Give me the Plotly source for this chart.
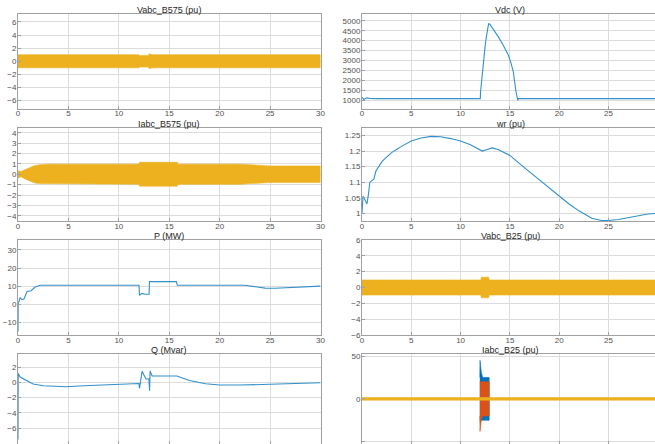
import plotly.graph_objects as go

# ---------------- data ----------------
# Vabc_B575 envelope (pu)
t_vb575 = [0, 12.0, 12.05, 12.95, 13.0, 13.15, 13.3, 30]
amp_vb575 = [1.0, 1.0, 0.88, 0.88, 1.15, 1.05, 1.0, 1.0]

# Iabc_B575 envelope (pu)
t_ib575 = [0, 0.15, 0.3, 0.5, 0.8, 1.0, 1.3, 1.6, 2.0, 2.5, 3.0, 12.0, 12.05, 15.8, 15.85,
           22.0, 23.0, 24.0, 25.0, 30]
amp_ib575 = [0.35, 0.3, 0.25, 0.35, 0.5, 0.6, 0.72, 0.82, 0.9, 0.95, 0.97, 0.97, 1.15, 1.15, 0.97,
             0.97, 0.9, 0.83, 0.8, 0.8]

# Vdc (V)
t_vdc = [0, 0.2, 0.5, 0.8, 1.5, 12.0, 12.02, 12.15, 12.3, 12.48, 12.6, 12.75, 12.85, 13.0, 13.5,
         13.83, 14.3, 14.85, 15.1, 15.35, 15.6, 15.8, 15.85, 30]
vdc = [1150, 1050, 1130, 1100, 1090, 1090, 1400, 2170, 2900, 3690, 4150, 4620, 4870, 4800, 4450,
       4190, 3800, 3270, 2900, 2430, 1500, 1000, 1090, 1090]

# wr (pu)
t_wr = [0, 0.1, 0.2, 0.35, 0.5, 0.65, 0.8, 1.0, 1.2, 1.4, 1.7, 2.0, 2.3, 2.6, 3.0, 3.5, 4.0, 5.0,
        6.0, 7.0, 8.0, 9.0, 10.0, 11.0, 12.2, 12.7, 13.2, 13.8, 14.5, 15.0, 16.5, 18.0, 19.9, 21.0,
        22.0, 23.3, 24.3, 25.0, 26.0, 27.0, 28.0, 29.0, 30.0]
wr = [1.0, 1.055, 1.05, 1.04, 1.03, 1.06, 1.1, 1.105, 1.11, 1.135, 1.15, 1.165, 1.175, 1.185,
      1.195, 1.205, 1.215, 1.232, 1.242, 1.247, 1.246, 1.24, 1.232, 1.22, 1.2, 1.205, 1.21, 1.205,
      1.195, 1.186, 1.146, 1.108, 1.058, 1.03, 1.008, 0.984, 0.977, 0.977, 0.98, 0.986, 0.992,
      0.998, 1.0]

# P (MW)
t_p = [0, 0.02, 0.1, 0.2, 0.4, 0.6, 0.9, 1.3, 1.7, 2.2, 12.0, 12.05, 12.3, 12.6, 13.0, 13.04,
       15.7, 15.8, 22.5, 23.5, 24.5, 25.5, 27.0, 29.0, 30.0]
p = [-15, 1.0, 1.4, 3.6, 2.5, 3.0, 7.0, 7.5, 9.5, 10.5, 10.5, 5.0, 6.0, 5.5, 5.5, 12.5,
     12.5, 10.5, 10.5, 9.5, 8.9, 8.8, 9.2, 9.8, 10.0]

# Vabc_B25 envelope (pu)
t_vb25 = [0, 12.05, 12.1, 12.85, 12.9, 30]
amp_vb25 = [0.95, 0.95, 1.3, 1.3, 0.95, 0.95]

# Q (Mvar)
t_q = [0, 0.02, 0.2, 0.8, 1.5, 2.5, 4.8, 6.5, 9.8, 11.9, 12.0, 12.05, 12.3, 12.7, 12.98, 13.05,
       13.1, 13.3, 15.75, 17.0, 18.6, 20.0, 22.0, 25.0, 28.0, 30.0]
q = [-7.5, 1.2, 0.7, 0.3, -0.22, -0.44, -0.57, -0.44, -0.22, -0.15, -0.15, -0.8, 1.45, 0.45, 0.45,
     -1.1, 1.5, 0.85, 0.85, 0.26, -0.18, -0.35, -0.35, -0.25, -0.15, -0.05]

# Iabc_B25 (pu): phase envelopes
t_ib25_c = [0, 30]
amp_ib25_c = [1.5, 1.5]
t_ib25_a = [11.95, 11.97, 12.1, 12.25, 12.9]
up_ib25_a = [25, 45, 31, 25, 25]
lo_ib25_a = [-25, -25, -25, -25, -25]
t_ib25_b = [11.95, 11.97, 12.1, 12.25, 12.9]
up_ib25_b = [20, 20, 20, 20, 20]
lo_ib25_b = [-20, -38, -24, -20, -20]

x_ticks = [0, 5, 10, 15, 20, 25, 30]

# ---------------- styling ----------------
BLUE = "#0072BD"
ORANGE = "#D95319"
YELLOW = "#EDB120"
LINE = "#3090cc"
FONT = "Liberation Sans, Arial, sans-serif"

W, H = 655, 444
left_x = [18 / W, 320.5 / W]
right_x = [362 / W, 1.0]
rows_px = [(14, 108.5), (127.5, 221), (240, 335), (353.5, 444)]
rows_y = [[1 - b / H, 1 - t / H] for t, b in rows_px]

panels = [
    # title, row, col, yrange, ytickvals, yticktext, xrange
    ("Vabc_B575 (pu)", 0, 0, [-7.2, 7.2], [-6, -4, -2, 0, 2, 4, 6], None, [0, 30]),
    ("Vdc (V)", 0, 1, [597, 5338], [1000, 1500, 2000, 2500, 3000, 3500, 4000, 4500, 5000], None, [0, 29.72]),
    ("Iabc_B575 (pu)", 1, 0, [-4.5, 4.5], [-4, -3, -2, -1, 0, 1, 2, 3, 4], None, [0, 30]),
    ("wr (pu)", 1, 1, [0.9754, 1.2756], [1, 1.05, 1.1, 1.15, 1.2, 1.25],
     ["1", "1.05", "1.1", "1.15", "1.2", "1.25"], [0, 29.72]),
    ("P (MW)", 2, 0, [-17, 35.5], [-10, 0, 10, 20, 30], None, [0, 30]),
    ("Vabc_B25 (pu)", 2, 1, [-6, 6], [-6, -4, -2, 0, 2, 4, 6], None, [0, 29.72]),
    ("Q (Mvar)", 3, 0, [-8.1, 3.8], [-6, -4, -2, 0, 2], None, [0, 30]),
    ("Iabc_B25 (pu)", 3, 1, [-52.7, 53], [-50, 0, 50], None, [0, 29.72]),
]

fig = go.Figure()


def ax_names(i):
    return ("x" if i == 1 else f"x{i}"), ("y" if i == 1 else f"y{i}")


def band(t, up, lo, color, i):
    xa, ya = ax_names(i)
    xs = list(t) + list(t)[::-1]
    ys = list(up) + list(lo)[::-1]
    fig.add_trace(go.Scatter(x=xs, y=ys, mode="lines", fill="toself", fillcolor=color,
                             line=dict(color=color, width=0.6), xaxis=xa, yaxis=ya,
                             showlegend=False, hoverinfo="skip"))


def line(t, v, color, i, width=1.1):
    xa, ya = ax_names(i)
    fig.add_trace(go.Scatter(x=t, y=v, mode="lines", line=dict(color=color, width=width),
                             xaxis=xa, yaxis=ya, showlegend=False))


band(t_vb575, amp_vb575, [-a for a in amp_vb575], YELLOW, 1)
line(t_vdc, vdc, LINE, 2)
band(t_ib575, amp_ib575, [-a for a in amp_ib575], YELLOW, 3)
line(t_wr, wr, LINE, 4)
line(t_p, p, LINE, 5)
band(t_vb25, amp_vb25, [-a for a in amp_vb25], YELLOW, 6)
line(t_q, q, LINE, 7)
band(t_ib25_a, up_ib25_a, lo_ib25_a, BLUE, 8)
band(t_ib25_b, up_ib25_b, lo_ib25_b, ORANGE, 8)
band(t_ib25_c, amp_ib25_c, [-a for a in amp_ib25_c], YELLOW, 8)

layout = dict(
    width=W, height=H, margin=dict(l=0, r=0, t=0, b=0, autoexpand=False),
    paper_bgcolor="white", plot_bgcolor="white",
    font=dict(family=FONT, size=8, color="#404040"),
    showlegend=False,
)
annotations = []
common = dict(showgrid=True, gridcolor="#dcdcdc", gridwidth=1,
              showline=True, linecolor="#a0a0a0", linewidth=1, mirror=True,
              ticks="inside", ticklen=3, tickcolor="#a0a0a0", automargin=False,
              zeroline=False, tickfont=dict(family=FONT, size=8, color="#505050"))
for k, (title, r, c, yr, yt, ytt, xr) in enumerate(panels):
    i = k + 1
    xd = left_x if c == 0 else right_x
    yd = rows_y[r]
    xkey = "xaxis" if i == 1 else f"xaxis{i}"
    ykey = "yaxis" if i == 1 else f"yaxis{i}"
    xa, ya = ax_names(i)
    layout[xkey] = dict(domain=xd, range=xr, anchor=ya, tickvals=x_ticks,
                        ticklabelstandoff=-3, showticklabels=(r < 3), **common)
    yd_ = dict(domain=yd, range=yr, anchor=xa, tickvals=yt, ticklabelstandoff=-1, **common)
    if ytt is not None:
        yd_["ticktext"] = ytt
    else:
        yd_["tickformat"] = "d"
    layout[ykey] = yd_
    xmid = (xd[0] + (left_x[1] if c == 0 else (362 + 296) / W)) / 2
    annotations.append(dict(text=title, x=xmid, y=yd[1], xref="paper", yref="paper",
                            xanchor="center", yanchor="bottom", showarrow=False,
                            yshift=-3, font=dict(family=FONT, size=9, color="#262626")))
layout["annotations"] = annotations
fig.update_layout(**layout)

fig.write_html("out.html")
